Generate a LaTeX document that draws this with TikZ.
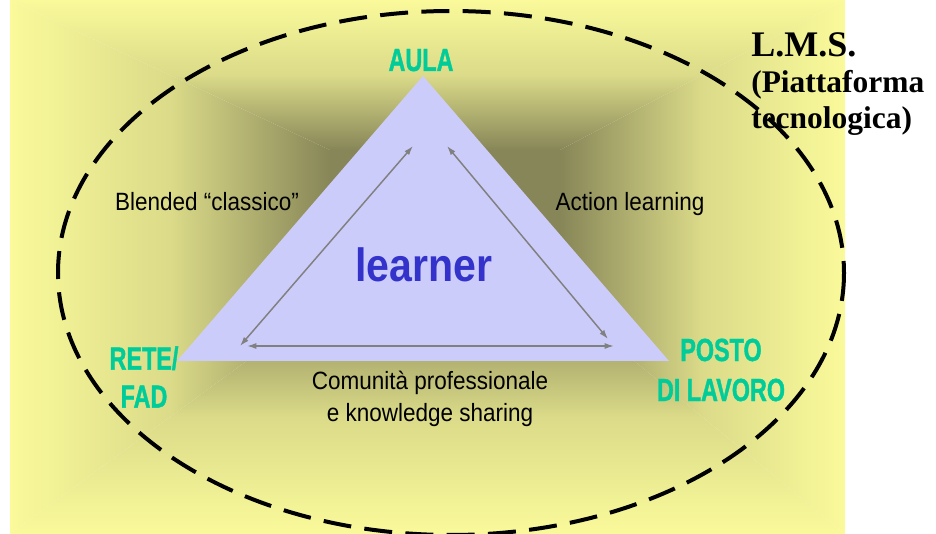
\documentclass[tikz,border=0pt]{standalone}
\usepackage{fontspec}
\usetikzlibrary{arrows.meta}
\newfontfamily\narrowsans[FakeStretch=0.9]{Liberation Sans}
\newfontfamily\learnerfont[FakeStretch=0.88]{Liberation Sans}
\newfontfamily\placefont[FakeStretch=0.73, BoldFeatures={FakeBold=1.2}]{Liberation Sans}
\newfontfamily\lmsfont{Liberation Serif}
\definecolor{yel}{RGB}{250,250,155}
\definecolor{darkol}{RGB}{135,134,88}
\definecolor{lav}{RGB}{204,204,250}
\definecolor{placegreen}{RGB}{0,204,153}
\definecolor{learnblue}{RGB}{51,51,204}
\definecolor{arrowgray}{RGB}{128,128,128}
\colorlet{midol}{yel!73!darkol}
\tikzset{
  edgelabel/.style={inner sep=0pt, font=\narrowsans\fontsize{18.75}{24}\selectfont, text=black},
  placelabel/.style={inner sep=0pt, align=center, text=placegreen, font=\placefont\bfseries\fontsize{24}{29}\selectfont},
  linkarrow/.style={draw=arrowgray, line width=1.1pt, {Latex[length=7pt,width=4.5pt]}-{Latex[length=7pt,width=4.5pt]}},
  lmsborder/.style={draw=black, line width=3pt, dash pattern=on 21pt off 10pt},
}
\begin{document}
\begin{tikzpicture}[x=0.75pt,y=-0.75pt]
\useasboundingbox (0,0) rectangle (936,534);
\fill[white] (0,0) rectangle (936,534);
% background gradient (rectangular)
\coordinate (o1) at (10,0);
\coordinate (o2) at (845,0);
\coordinate (o3) at (845,534);
\coordinate (o4) at (10,534);
\coordinate (i1) at (330,150);
\coordinate (i2) at (560,150);
\coordinate (i3) at (560,300);
\coordinate (i4) at (330,300);
\fill[darkol] (i1) rectangle (i3);
\shade[top color=yel, bottom color=darkol, middle color=midol] (o1) -- (o2) -- (i2) -- (i1) -- cycle;
\shade[left color=yel, right color=darkol, middle color=midol] (o1) -- (i1) -- (i4) -- (o4) -- cycle;
\shade[left color=darkol, right color=yel, middle color=midol] (o2) -- (o3) -- (i3) -- (i2) -- cycle;
\shade[top color=darkol, bottom color=yel, middle color=midol] (o4) -- (i4) -- (i3) -- (o3) -- cycle;
% triangle
\coordinate (ta) at (423,76);
\coordinate (tl) at (177,361);
\coordinate (tr) at (669,361);
\fill[lav] (ta) -- (tl) -- (tr) -- cycle;
% arrow end points
\coordinate (la) at (413,146);
\coordinate (lb) at (240,346);
\coordinate (ra) at (447,146);
\coordinate (rb) at (608,339);
\coordinate (ba) at (247,346);
\coordinate (bb) at (614,346);
\draw[linkarrow] (la) -- (lb);
\draw[linkarrow] (ra) -- (rb);
\draw[linkarrow] (ba) -- (bb);
% texts
\node[edgelabel, anchor=base] (blended) at (207,211) {Blended “classico”};
\node[edgelabel, anchor=base] (action) at (630,211) {Action learning};
\node[edgelabel, align=center] (comunita) at (430,399) {Comunità professionale\\e knowledge sharing};
\node[inner sep=0pt, anchor=base, text=learnblue, font=\learnerfont\bfseries\fontsize{35}{40}\selectfont] (learner) at (424,282) {learner};
\node[placelabel, anchor=base] (aula) at (421,71) {AULA};
\node[placelabel, font=\placefont\bfseries\fontsize{24}{28.5}\selectfont] (rete) at (144,377) {RETE/\\FAD};
\node[placelabel, font=\placefont\bfseries\fontsize{24}{30}\selectfont] (posto) at (721,370) {POSTO\\DI LAVORO};
\node[inner sep=0pt, anchor=north west, align=left, text=black, font=\lmsfont\bfseries\fontsize{23.6}{27}\selectfont] (lms) at (751,32) {{\fontsize{27}{27}\selectfont L.M.S.}\\(Piattaforma\\tecnologica)};
% LMS border
\draw[lmsborder] (451,273) ellipse [x radius=393, y radius=262];
\end{tikzpicture}
\end{document}
